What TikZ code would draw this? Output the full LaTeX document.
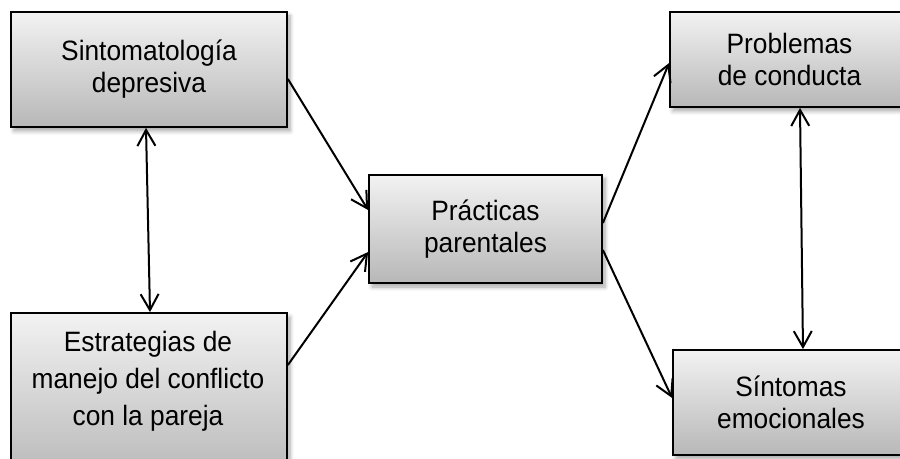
\documentclass[tikz,border=0pt]{standalone}
\usepackage{fontspec}
\setmainfont{Liberation Sans}
\newfontfamily\boxfont[FakeStretch=0.94]{Liberation Sans}
\usetikzlibrary{arrows.meta,shadows.blur}

\tikzset{
  box/.style={draw=black, line width=0.9pt, rectangle, inner sep=0pt,
    top color=black!5, bottom color=black!28,
    blur shadow={shadow xshift=1.5pt, shadow yshift=-2pt, shadow opacity=35, shadow blur steps=6}},
  lbl/.style={align=center, inner sep=0pt, font=\boxfont\fontsize{14}{16}\selectfont},
  link/.style={line width=1pt, -{Straight Barb[length=8pt,width=9pt,line width=1pt]}},
  both/.style={line width=1pt, {Straight Barb[length=8pt,width=9pt,line width=1pt]}-{Straight Barb[length=8pt,width=9pt,line width=1pt]}}
}

\begin{document}
\begin{tikzpicture}[x=0.5pt, y=-0.5pt]
  \useasboundingbox (0,0) rectangle (900,459);
  \clip (0,0) rectangle (900,459);

  % boxes
  \node[box, lbl, minimum width=138pt, minimum height=57.5pt] (sint) at (149,69.5)
    {Sintomatología\\depresiva};
  \node[box, minimum width=138pt, minimum height=83.5pt] (estr) at (149,396.5) {};
  \node[lbl, font=\boxfont\fontsize{14}{18.5}\selectfont] (estrtxt) at (148,381)
    {Estrategias de\\manejo del conflicto\\con la pareja};
  \node[box, lbl, minimum width=116.5pt, minimum height=54pt] (prac) at (485.5,229)
    {Prácticas\\parentales};
  \node[box, lbl, minimum width=119.5pt, minimum height=47.5pt] (prob) at (789.5,59.5)
    {Problemas\\de conducta};
  \node[box, lbl, minimum width=118pt, minimum height=52.5pt] (sinto) at (791,402.5)
    {Síntomas\\emocionales};

  % connectors
  \draw[both] (146,0 |- sint.south) -- (150,0 |- estr.north);
  \draw[both] (800,0 |- prob.south) -- (803,0 |- sinto.north);
  \draw[link] (sint.east |- 0,79) -- (prac.west |- 0,210);
  \draw[link] (estr.east |- 0,365) -- (prac.west |- 0,252);
  \draw[link] (prac.east |- 0,223) -- (prob.west |- 0,63);
  \draw[link] (prac.east |- 0,250) -- (sinto.west |- 0,398);
\end{tikzpicture}
\end{document}
